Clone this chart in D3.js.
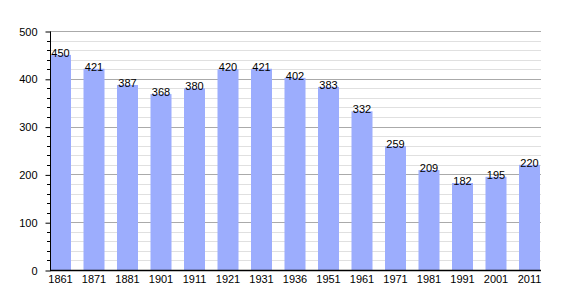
<!DOCTYPE html>
<html>
<head>
<meta charset="utf-8">
<script src="https://cdn.jsdelivr.net/npm/d3@7"></script>
<style>
  body { margin: 0; background: #fff; }
  text { font-family: "Liberation Sans", Arial, sans-serif; }
</style>
</head>
<body>
<svg width="570" height="300"></svg>
<script>
// recensement
var years = ["1861", "1871", "1881", "1901", "1911", "1921", "1931", "1936", "1951", "1961", "1971", "1981", "1991", "2001", "2011"];
var population = [450, 421, 387, 368, 380, 420, 421, 402, 383, 332, 259, 209, 182, 195, 220];
var yTicks = [0, 100, 200, 300, 400, 500];

var svg = d3.select("svg");
var plotLeft = 50, plotRight = 540, plotTop = 31, plotBottom = 270;

var x = d3.scaleBand()
    .domain(years)
    .range([plotLeft, plotRight])
    .paddingInner(0.373)
    .paddingOuter(0);

var y = d3.scaleLinear()
    .domain([0, 500])
    .range([plotBottom, plotTop]);

/* quadrillage mineur puis majeur */
var minor = d3.range(0, 501, 20).filter(function(v) { return v % 100 != 0; });
svg.append("g").selectAll("line")
    .data(minor)
    .enter().append("line")
    .attr("x1", plotLeft).attr("x2", plotRight + 1)
    .attr("y1", function(d) { return Math.round(y(d)) + 0.5; })
    .attr("y2", function(d) { return Math.round(y(d)) + 0.5; })
    .attr("stroke", "#e0e0e0");

svg.append("g").selectAll("line")
    .data(yTicks.slice(1))
    .enter().append("line")
    .attr("x1", plotLeft).attr("x2", plotRight + 1)
    .attr("y1", function(d) { return Math.round(y(d)) + 0.5; })
    .attr("y2", function(d) { return Math.round(y(d)) + 0.5; })
    .attr("stroke", "#aaaaaa");

/* barres */
svg.append("g").selectAll("rect")
    .data(population)
    .enter().append("rect")
    .attr("x", function(d, i) { return x(years[i]); })
    .attr("y", function(d) { return y(d); })
    .attr("width", x.bandwidth())
    .attr("height", function(d) { return plotBottom - y(d); })
    .attr("fill", "#9cadfd");

/* valeurs */
svg.append("g").selectAll("text")
    .data(population)
    .enter().append("text")
    .attr("x", function(d, i) { return x(years[i]) + x.bandwidth() / 2; })
    .attr("y", function(d) { return y(d) + 2; })
    .attr("text-anchor", "middle")
    .attr("font-size", 11)
    .attr("fill", "#000")
    .text(function(d) { return d; });

/* axe y : graduations mineures */
svg.append("g").selectAll("line")
    .data(minor)
    .enter().append("line")
    .attr("x1", plotLeft - 3).attr("x2", plotLeft)
    .attr("y1", function(d) { return Math.round(y(d)) + 0.5; })
    .attr("y2", function(d) { return Math.round(y(d)) + 0.5; })
    .attr("stroke", "#000");

svg.append("g")
    .attr("transform", "translate(" + (plotLeft + 0.5) + ",0.5)")
    .call(d3.axisLeft(y).tickValues(yTicks).tickSize(5).tickPadding(8))
    .call(function(g) { g.select(".domain").attr("d", "M0," + plotTop + "V" + plotBottom); })
    .selectAll("text")
    .attr("font-size", 11)
    .attr("fill", "#000")
    .attr("font-family", "Liberation Sans, Arial, sans-serif");

svg.append("g")
    .attr("transform", "translate(0," + (plotBottom + 0.5) + ")")
    .call(d3.axisBottom(x).tickSize(0).tickPadding(5))
    .call(function(g) { g.select(".domain").attr("d", "M" + plotLeft + ",0H" + (plotRight + 1)).attr("stroke-width", 1.5); })
    .selectAll("text")
    .attr("font-size", 11)
    .attr("fill", "#000")
    .attr("font-family", "Liberation Sans, Arial, sans-serif");
</script>
</body>
</html>
